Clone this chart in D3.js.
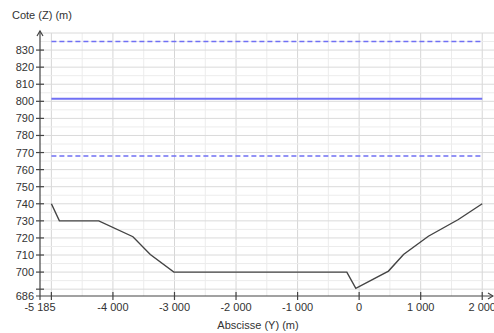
<!DOCTYPE html>
<html>
<head>
<meta charset="utf-8">
<script src="https://cdn.jsdelivr.net/npm/d3@7"></script>
<style>
  body { margin: 0; background: #fff; }
  text { font-family: "Liberation Sans", Arial, sans-serif; font-size: 11px; fill: #333; }
</style>
</head>
<body>
<script>
  // profil en travers
  const profileY = [-5000, -4870, -4230, -3675, -3393, -3010, -200, -54, 477, 721, 1125, 1612, 2000];
  const profileZ = [740, 730, 730, 720.7, 710.3, 700, 700, 690.5, 700.6, 710.3, 721, 730.8, 740];

  // niveaux d'eau (Y debut / fin, Z)
  const levelNames = ["haut", "moyen", "bas"];
  const levelZ = [835, 801.5, 768];
  const levelDashed = [true, false, true];
  const levelRange = [-5000, 2000];

  const xTicks = [-4000, -3000, -2000, -1000, 0, 1000, 2000];
  const yTicks = [700, 710, 720, 730, 740, 750, 760, 770, 780, 790, 800, 810, 820, 830];
  const xMin = -5185, yMin = 686;

  const W = 494, H = 333;
  const margin = {top: 33, right: 1, bottom: 37, left: 40};

  const svg = d3.select('body').append('svg')
    .attr('width', W).attr('height', H);

  const x = d3.scaleLinear().domain([xMin, 2175]).range([margin.left, W - margin.right]);
  const y = d3.scaleLinear().domain([yMin, 840]).range([H - margin.bottom, margin.top]);

  const fr = d3.formatLocale({decimal: ",", thousands: " ", grouping: [3], currency: ["", ""], minus: "-"});
  const fmt = fr.format(",d");

  // grille
  const grid = svg.append('g');
  d3.range(-5000, 2001, 500).forEach(function(v) {
    grid.append('line')
      .attr('x1', x(v)).attr('x2', x(v))
      .attr('y1', y(840)).attr('y2', y(yMin))
      .attr('stroke', v % 1000 === 0 ? '#d6d6d6' : '#ececec');
  });
  d3.range(690, 841, 5).forEach(function(v) {
    grid.append('line')
      .attr('x1', x(xMin)).attr('x2', W)
      .attr('y1', y(v)).attr('y2', y(v))
      .attr('stroke', v % 10 === 0 ? '#dadada' : '#ececec');
  });

  // niveaux d'eau
  svg.selectAll('.level')
    .data(levelNames)
    .enter().append('line')
      .attr('class', 'level')
      .attr('x1', x(levelRange[0])).attr('x2', x(levelRange[1]))
      .attr('y1', function(d, i) { return y(levelZ[i]); })
      .attr('y2', function(d, i) { return y(levelZ[i]); })
      .attr('stroke', '#7070f4')
      .attr('stroke-width', function(d, i) { return levelDashed[i] ? 1.5 : 2; })
      .attr('stroke-dasharray', function(d, i) { return levelDashed[i] ? '5,3' : null; });

  // profil
  const line = d3.line()
    .x(function(d) { return x(d[0]); })
    .y(function(d) { return y(d[1]); });

  svg.append('path')
    .datum(d3.zip(profileY, profileZ))
    .attr('d', line)
    .attr('fill', 'none')
    .attr('stroke', '#444')
    .attr('stroke-width', 1.4);

  // axes
  const ax = svg.append('g').attr('stroke', '#444').attr('stroke-width', 1.2);
  const x0 = x(xMin), y0 = y(yMin);
  ax.append('line').attr('x1', x0).attr('x2', x0).attr('y1', y0 + 4).attr('y2', margin.top - 2);
  ax.append('line').attr('x1', x0 - 4).attr('x2', W - 1).attr('y1', y0).attr('y2', y0);
  ax.append('path').attr('fill', 'none')
    .attr('d', 'M' + (x0 - 3) + ',' + (margin.top + 3) + 'L' + x0 + ',' + (margin.top - 2) + 'L' + (x0 + 3) + ',' + (margin.top + 3));
  ax.append('path').attr('fill', 'none')
    .attr('d', 'M' + (W - 6) + ',' + (y0 - 3) + 'L' + (W - 1) + ',' + y0 + 'L' + (W - 6) + ',' + (y0 + 3));

  d3.range(690, 831, 10).forEach(function(v) {
    ax.append('line').attr('x1', x0 - 4).attr('x2', x0 + 4).attr('y1', y(v)).attr('y2', y(v));
  });
  d3.range(-5000, 2001, 1000).forEach(function(v) {
    ax.append('line').attr('x1', x(v)).attr('x2', x(v)).attr('y1', y0 - 4).attr('y2', y0 + 4);
  });

  svg.selectAll('.ylab')
    .data(yTicks)
    .enter().append('text')
      .attr('x', x0 - 6)
      .attr('y', function(d) { return y(d) + 4; })
      .attr('text-anchor', 'end')
      .text(function(d) { return d; });

  svg.append('text').attr('x', x0 - 6).attr('y', y0 + 4).attr('text-anchor', 'end').text(yMin);

  svg.selectAll('.xlab')
    .data(xTicks)
    .enter().append('text')
      .attr('x', function(d) { return x(d); })
      .attr('y', y0 + 15)
      .attr('text-anchor', 'middle')
      .text(function(d) { return fmt(d); });

  svg.append('text').attr('x', x0).attr('y', y0 + 15).attr('text-anchor', 'middle').text(fmt(xMin));

  svg.append('text').attr('x', 12).attr('y', 19).text('Cote (Z) (m)');
  svg.append('text').attr('x', 258).attr('y', 329).attr('text-anchor', 'middle').text('Abscisse (Y) (m)');
</script>
</body>
</html>
